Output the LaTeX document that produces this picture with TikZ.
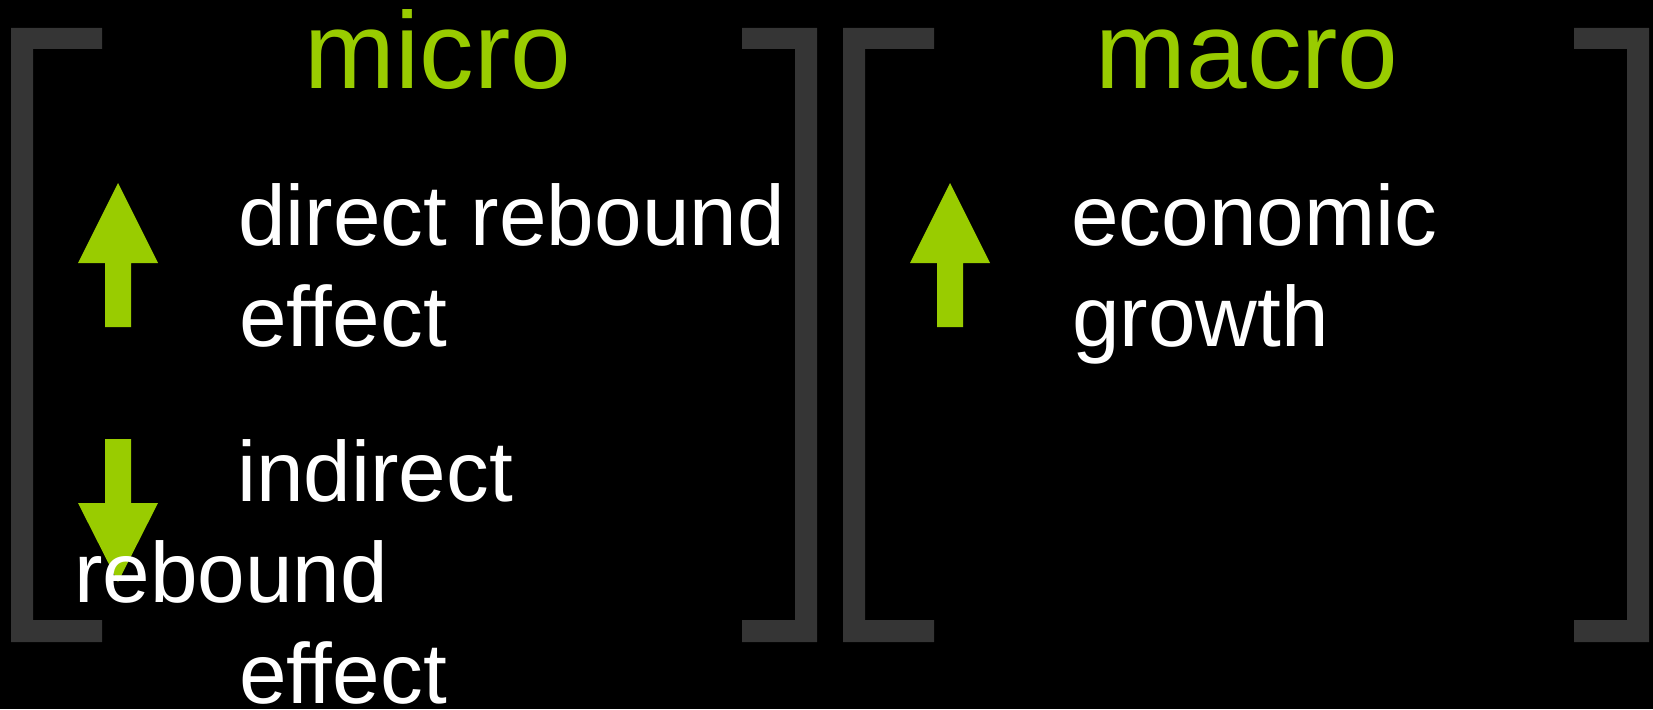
\documentclass[tikz,border=0pt]{standalone}
\usepackage{fontspec}
\setmainfont{Liberation Sans}[Ligatures=NoCommon]
\definecolor{lime}{RGB}{153,204,0}
\definecolor{bracketgrey}{RGB}{53,53,53}
\begin{document}
\begin{tikzpicture}[x=1pt,y=-1pt,
  title/.style={text=lime,inner sep=0pt,anchor=base,font=\fontsize{109}{109}\selectfont},
  body/.style={text=white,inner sep=0pt,anchor=base west,font=\fontsize{85.5}{101}\selectfont},
  bracketfill/.style={fill=bracketgrey},
  arrowfill/.style={fill=lime}]
% background
\fill[black] (0,0) rectangle (1653,709);
\useasboundingbox (0,0) rectangle (1653,709);

% brackets around the micro column
\fill[bracketfill] (11,28) -- (102,28) -- (102,49) -- (33,49) -- (33,620) -- (102,620) -- (102,642) -- (11,642) -- cycle;
\fill[bracketfill] (817,28) -- (742,28) -- (742,49) -- (795,49) -- (795,620) -- (742,620) -- (742,642) -- (817,642) -- cycle;
% brackets around the macro column
\fill[bracketfill] (843,28) -- (934,28) -- (934,49) -- (865,49) -- (865,620) -- (934,620) -- (934,642) -- (843,642) -- cycle;
\fill[bracketfill] (1649,28) -- (1574,28) -- (1574,49) -- (1627,49) -- (1627,620) -- (1574,620) -- (1574,642) -- (1649,642) -- cycle;

% column titles
\node[title] (micro) at (438,88) {micro};
\node[title] (macro) at (1247,88) {macro};

% up arrow: direct rebound effect
\fill[arrowfill] (118,183) -- (158,263) -- (131,263) -- (131,327) -- (105,327) -- (105,263) -- (78,263) -- cycle;
% down arrow: indirect rebound effect
\fill[arrowfill] (105,439) -- (131,439) -- (131,503) -- (158,503) -- (118,582) -- (78,503) -- (105,503) -- cycle;
% up arrow: economic growth
\fill[arrowfill] (950,183) -- (990,263) -- (963,263) -- (963,327) -- (937,327) -- (937,263) -- (910,263) -- cycle;

% labels
\node[body] (direct1) at (238,245) {direct rebound};
\node[body] (direct2) at (239,346) {effect};
\node[body] (indirect1) at (237,501) {indirect};
\node[body] (indirect2) at (74,602) {rebound};
\node[body] (indirect3) at (239,703) {effect};
\node[body] (growth1) at (1071,245) {economic};
\node[body] (growth2) at (1072,346) {growth};
\end{tikzpicture}
\end{document}
